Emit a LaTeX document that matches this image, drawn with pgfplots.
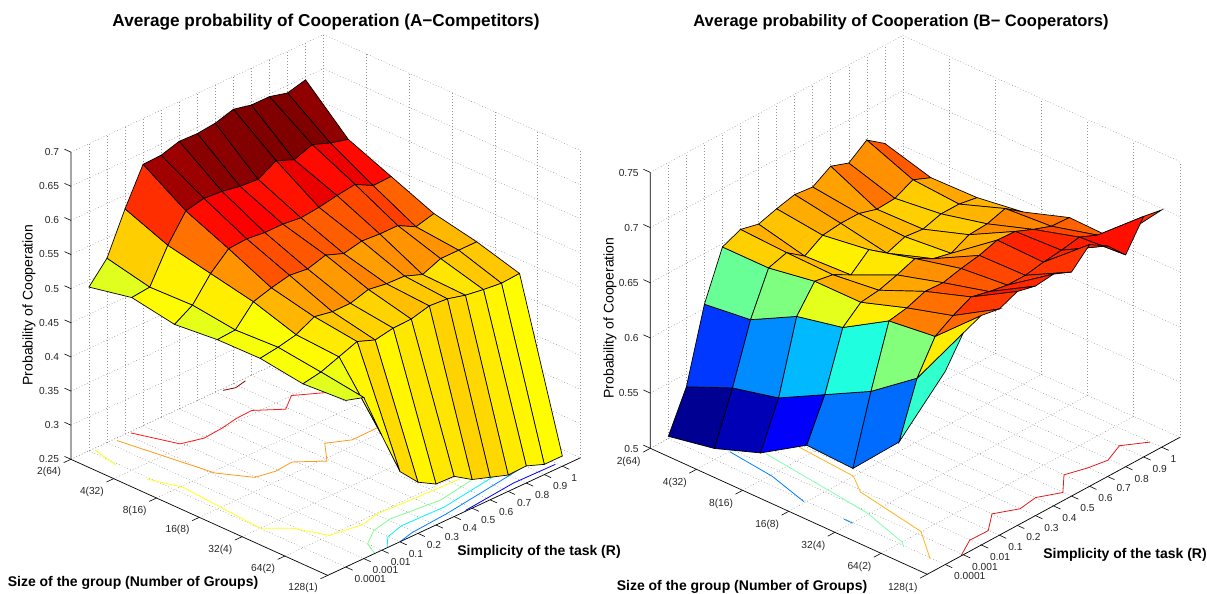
\documentclass[border=0pt]{standalone}
\usepackage{pgfplots}
\pgfplotsset{compat=1.18}
\usepackage{fontspec}
\setmainfont{Liberation Sans}
\definecolor{cdr}{rgb}{0.55,0,0}
\definecolor{cr}{rgb}{1,0.1,0.1}
\definecolor{co}{rgb}{1,0.6,0.1}
\definecolor{cy}{rgb}{1,1,0.1}
\definecolor{cg}{rgb}{0.5,1,0.55}
\definecolor{cc}{rgb}{0,0.95,1}
\definecolor{cb}{rgb}{0,0.5,1}
\definecolor{cdb}{rgb}{0,0,0.9}
\definecolor{crr}{rgb}{0.9,0.1,0.1}
\definecolor{coo}{rgb}{1,0.7,0.1}
\definecolor{cgg}{rgb}{0.5,1,0.7}
\newcommand\tk[6]{\addplot3[black,no marks,line width=0.6pt,forget plot] coordinates {(#1,#2,#3)(#4,#5,#6)};}
\pgfplotsset{
  panel/.style={
    clip=false, grid=major,
    grid style={dash pattern=on 0.8pt off 2.2pt, line width=0.5pt, black!42},
    axis line style={draw=none},
    tick pos=left,
    tick align=outside, tick style={draw=none},
    major tick length=7pt,
    tick label style={font=\fontsize{10.2}{12}\selectfont, text=black!85},
    colormap={mj}{rgb=(0,0,.5) rgb=(0,0,1) rgb=(0,.5,1) rgb=(0,1,1) rgb=(.5,1,.5) rgb=(1,1,0) rgb=(1,.5,0) rgb=(1,0,0) rgb=(.5,0,0)},
    xtick={1,2,3,4,5,6,7},
    xticklabels={2(64),4(32),8(16),16(8),32(4),64(2),128(1)},
    ytick={1,2,3,4,5,6,7,8,9,10,11,12,13},
    yticklabels={0.0001,0.001,0.01,0.1,0.2,0.3,0.4,0.5,0.6,0.7,0.8,0.9,1},
    xmin=1, xmax=7, ymin=0, ymax=14,
    every x tick label/.append style={anchor=east, xshift=0pt, yshift=-10pt},
    every y tick label/.append style={anchor=west, xshift=-1pt, yshift=-9pt},
    every z tick label/.append style={anchor=east, xshift=-2pt, yshift=3pt},
  },
  srf/.style={surf, shader=flat corner, draw=black, line width=0.7pt, z buffer=sort, mesh/rows=13, mesh/cols=7, mesh/ordering=y varies},
  cl/.style={no marks, line width=0.8pt, color=#1},
}
\begin{document}
\begin{tikzpicture}[x=1pt,y=1pt]
\path[use as bounding box] (0,0) rectangle (1207,594);
\begin{axis}[panel, at={(70.9pt,134.7pt)}, anchor=origin,
  x={(42.8pt,-19.35pt)}, y={(18.05pt,8.4pt)}, z={(0pt,682.6pt)},
  zmin=0.25, zmax=0.7,
  ztick={0.25,0.3,0.35,0.4,0.45,0.5,0.55,0.6,0.65,0.7},
  zticklabels={0.25,0.3,0.35,0.4,0.45,0.5,0.55,0.6,0.65,0.7}]
\addplot3[cl=cdr] coordinates {(1.05,8.32,.25)(1.13,8.83,.25)(1.07,9.50,.25)};
\addplot3[cl=cr] coordinates {(1.04,3.23,.25)(1.90,3.91,.25)(2.04,4.92,.25)(2.00,5.97,.25)(1.92,6.99,.25)(1.90,7.89,.25)(2.27,8.89,.25)(1.99,9.87,.25)(2.32,10.98,.25)(2.5,12,.25)(2.5,13,.25)};
\addplot3[cl=co] coordinates {(1.07,2.39,.25)(2.43,2.88,.25)(3.05,3.10,.25)(3.64,3.93,.25)(3.73,4.87,.25)(3.69,5.88,.25)(4.08,6.88,.25)(3.60,7.90,.25)(3.84,8.86,.25)(3.83,10.17,.25)(3.8,11.5,.25)};
\addplot3[cl=cy] coordinates {(1.05,1.22,.25)(1.68,.87,.25)};
\addplot3[cl=cy] coordinates {(2.40,.875,.25)(3.04,1.37,.25)(5.0,1.01,.25)(5.39,1.90,.25)(6.0,2.46,.25)(6.12,3.99,.25)(6.02,5.07,.25)(6.07,7.20,.25)(6.11,9.42,.25)};
\addplot3[cl=cg] coordinates {(6.99,2.62,.25)(6.67,2.99,.25)(6.41,3.93,.25)(6.30,5.10,.25)(6.42,7.62,.25)(6.28,9.65,.25)};
\addplot3[cl=cc] coordinates {(7.0,3.29,.25)(6.73,3.97,.25)(6.61,5.01,.25)(6.64,7.31,.25)(6.45,10.43,.25)(6.48,10.67,.25)};
\addplot3[cl=cb] coordinates {(7.0,4.01,.25)(6.91,4.88,.25)(6.84,6.95,.25)(6.68,9.76,.25)(6.55,11.98,.25)};
\addplot3[cl=cdb] coordinates {(6.98,7.68,.25)(6.85,10.64,.25)(6.87,12.92,.25)};
\addplot3[srf, point meta min=0.262, point meta max=0.645] table[row sep=\\] {
x y z\\
1 1 .490\\ 1 2 .520\\ 1 3 .580\\ 1 4 .633\\ 1 5 .634\\ 1 6 .642\\ 1 7 .641\\ 1 8 .644\\ 1 9 .652\\ 1 10 .646\\ 1 11 .646\\ 1 12 .639\\ 1 13 .646\\
2 1 .503\\ 2 2 .506\\ 2 3 .555\\ 2 4 .593\\ 2 5 .599\\ 2 6 .597\\ 2 7 .592\\ 2 8 .590\\ 2 9 .605\\ 2 10 .594\\ 2 11 .604\\ 2 12 .594\\ 2 13 .587\\
3 1 .492\\ 3 2 .508\\ 3 3 .542\\ 3 4 .566\\ 3 5 .568\\ 3 6 .565\\ 3 7 .565\\ 3 8 .562\\ 3 9 .565\\ 3 10 .570\\ 3 11 .574\\ 3 12 .560\\ 3 13 .561\\
4 1 .498\\ 4 2 .500\\ 4 3 .529\\ 4 4 .537\\ 4 5 .543\\ 4 6 .540\\ 4 7 .548\\ 4 8 .538\\ 4 9 .544\\ 4 10 .542\\ 4 11 .542\\ 4 12 .528\\ 4 13 .535\\
5 1 .499\\ 5 2 .503\\ 5 3 .509\\ 5 4 .523\\ 5 5 .518\\ 5 6 .518\\ 5 7 .526\\ 5 8 .522\\ 5 9 .521\\ 5 10 .511\\ 5 11 .522\\ 5 12 .522\\ 5 13 .522\\
6 1 .490\\ 6 2 .495\\ 6 3 .505\\ 6 4 .515\\ 6 5 .505\\ 6 6 .510\\ 6 7 .511\\ 6 8 .518\\ 6 9 .516\\ 6 10 .509\\ 6 11 .505\\ 6 12 .502\\ 6 13 .504\\
7 1 .494\\ 7 2 .486\\ 7 3 .418\\ 7 4 .353\\ 7 5 .325\\ 7 6 .310\\ 7 7 .309\\ 7 8 .292\\ 7 9 .283\\ 7 10 .274\\ 7 11 .275\\ 7 12 .265\\ 7 13 .265\\
};
\draw[black,line width=0.7pt] (axis cs:1,0,.7)--(axis cs:1,0,.25)--(axis cs:7,0,.25)--(axis cs:7,14,.25);
\tk{1}{0}{.25}{1}{-.4}{.25}\tk{2}{0}{.25}{2}{-.4}{.25}\tk{3}{0}{.25}{3}{-.4}{.25}\tk{4}{0}{.25}{4}{-.4}{.25}\tk{5}{0}{.25}{5}{-.4}{.25}\tk{6}{0}{.25}{6}{-.4}{.25}\tk{7}{0}{.25}{7}{-.4}{.25}
\tk{7}{1}{.25}{7.16}{1}{.25}\tk{7}{2}{.25}{7.16}{2}{.25}\tk{7}{3}{.25}{7.16}{3}{.25}\tk{7}{4}{.25}{7.16}{4}{.25}\tk{7}{5}{.25}{7.16}{5}{.25}\tk{7}{6}{.25}{7.16}{6}{.25}\tk{7}{7}{.25}{7.16}{7}{.25}\tk{7}{8}{.25}{7.16}{8}{.25}\tk{7}{9}{.25}{7.16}{9}{.25}\tk{7}{10}{.25}{7.16}{10}{.25}\tk{7}{11}{.25}{7.16}{11}{.25}\tk{7}{12}{.25}{7.16}{12}{.25}\tk{7}{13}{.25}{7.16}{13}{.25}
\tk{1}{0}{.25}{.85}{0}{.25}\tk{1}{0}{.3}{.85}{0}{.3}\tk{1}{0}{.35}{.85}{0}{.35}\tk{1}{0}{.4}{.85}{0}{.4}\tk{1}{0}{.45}{.85}{0}{.45}\tk{1}{0}{.5}{.85}{0}{.5}\tk{1}{0}{.55}{.85}{0}{.55}\tk{1}{0}{.6}{.85}{0}{.6}\tk{1}{0}{.65}{.85}{0}{.65}\tk{1}{0}{.7}{.85}{0}{.7}
\end{axis}
\begin{axis}[panel, at={(650.3pt,145.7pt)}, anchor=origin,
  x={(46.15pt,-21.0pt)}, y={(18.04pt,9.78pt)}, z={(0pt,1103.5pt)},
  zmin=0.5, zmax=0.75,
  ztick={0.5,0.55,0.6,0.65,0.7,0.75},
  zticklabels={0.5,0.55,0.6,0.65,0.7,0.75}]
\addplot3[cl=crr] coordinates {(6.99,1.91,.5)(6.76,2.97,.5)(6.77,3.97,.5)(6.45,5.0,.5)(6.67,5.99,.5)(6.61,7.01,.5)(6.82,7.98,.5)(6.45,8.99,.5)(6.58,9.98,.5)(6.65,10.92,.5)(6.47,12.01,.5)(6.75,12.98,.5)};
\addplot3[cl=coo] coordinates {(2.73,3.83,.5)(4.0,3.59,.5)(4.42,2.89,.5)(6.0,2.22,.5)(6.70,.93,.5)};
\addplot3[cl=cgg] coordinates {(2.49,2.62,.5)(4.10,2.15,.5)(4.96,1.89,.5)(6.0,1.16,.5)(6.13,.93,.5)};
\addplot3[cl=cb] coordinates {(2.01,1.82,.5)(3.04,1.53,.5)(3.97,.92,.5)};
\addplot3[cl=cb] coordinates {(4.82,.96,.5)(5.01,.96,.5)};
\addplot3[srf, point meta min=0.498, point meta max=0.72] table[row sep=\\] {
x y z\\
1 1 .502\\ 1 2 .538\\ 1 3 .604\\ 1 4 .647\\ 1 5 .654\\ 1 6 .650\\ 1 7 .655\\ 1 8 .659\\ 1 9 .657\\ 1 10 .667\\ 1 11 .661\\ 1 12 .673\\ 1 13 .661\\
2 1 .510\\ 2 2 .556\\ 2 3 .609\\ 2 4 .647\\ 2 5 .652\\ 2 6 .640\\ 2 7 .650\\ 2 8 .652\\ 2 9 .652\\ 2 10 .647\\ 2 11 .648\\ 2 12 .656\\ 2 13 .649\\
3 1 .525\\ 3 2 .566\\ 3 3 .631\\ 3 4 .654\\ 3 5 .651\\ 3 6 .642\\ 3 7 .656\\ 3 8 .644\\ 3 9 .650\\ 3 10 .648\\ 3 11 .653\\ 3 12 .653\\ 3 13 .650\\
4 1 .551\\ 4 2 .588\\ 4 3 .640\\ 4 4 .654\\ 4 5 .656\\ 4 6 .661\\ 4 7 .667\\ 4 8 .658\\ 4 9 .654\\ 4 10 .662\\ 4 11 .663\\ 4 12 .668\\ 4 13 .656\\
5 1 .549\\ 5 2 .610\\ 5 3 .665\\ 5 4 .668\\ 5 5 .674\\ 5 6 .673\\ 5 7 .677\\ 5 8 .680\\ 5 9 .685\\ 5 10 .684\\ 5 11 .677\\ 5 12 .671\\ 5 13 .670\\
6 1 .592\\ 6 2 .641\\ 6 3 .670\\ 6 4 .680\\ 6 5 .688\\ 6 6 .684\\ 6 7 .681\\ 6 8 .681\\ 6 9 .684\\ 6 10 .686\\ 6 11 .689\\ 6 12 .682\\ 6 13 .669\\
7 1 .675\\ 7 2 .701\\ 7 3 .708\\ 7 4 .705\\ 7 5 .712\\ 7 6 .708\\ 7 7 .710\\ 7 8 .703\\ 7 9 .719\\ 7 10 .709\\ 7 11 .692\\ 7 12 .718\\ 7 13 .715\\
};
\draw[black,line width=0.7pt] (axis cs:1,0,.75)--(axis cs:1,0,.5)--(axis cs:7,0,.5)--(axis cs:7,14,.5);
\tk{1}{0}{.5}{1}{-.4}{.5}\tk{2}{0}{.5}{2}{-.4}{.5}\tk{3}{0}{.5}{3}{-.4}{.5}\tk{4}{0}{.5}{4}{-.4}{.5}\tk{5}{0}{.5}{5}{-.4}{.5}\tk{6}{0}{.5}{6}{-.4}{.5}\tk{7}{0}{.5}{7}{-.4}{.5}
\tk{7}{1}{.5}{7.15}{1}{.5}\tk{7}{2}{.5}{7.15}{2}{.5}\tk{7}{3}{.5}{7.15}{3}{.5}\tk{7}{4}{.5}{7.15}{4}{.5}\tk{7}{5}{.5}{7.15}{5}{.5}\tk{7}{6}{.5}{7.15}{6}{.5}\tk{7}{7}{.5}{7.15}{7}{.5}\tk{7}{8}{.5}{7.15}{8}{.5}\tk{7}{9}{.5}{7.15}{9}{.5}\tk{7}{10}{.5}{7.15}{10}{.5}\tk{7}{11}{.5}{7.15}{11}{.5}\tk{7}{12}{.5}{7.15}{12}{.5}\tk{7}{13}{.5}{7.15}{13}{.5}
\tk{1}{0}{.5}{.85}{0}{.5}\tk{1}{0}{.55}{.85}{0}{.55}\tk{1}{0}{.6}{.85}{0}{.6}\tk{1}{0}{.65}{.85}{0}{.65}\tk{1}{0}{.7}{.85}{0}{.7}\tk{1}{0}{.75}{.85}{0}{.75}
\end{axis}
\node[font=\bfseries\fontsize{17.2}{18}\selectfont] at (326,572) {Average probability of Cooperation (A−Competitors)};
\node[font=\bfseries\fontsize{16.5}{18}\selectfont] at (901,572) {Average probability of Cooperation (B− Cooperators)};
\node[font=\bfseries\fontsize{14}{16}\selectfont] at (133,11) {Size of the group (Number of Groups)};
\node[font=\bfseries\fontsize{14}{16}\selectfont] at (742,7) {Size of the group (Number of Groups)};
\node[font=\bfseries\fontsize{14}{16}\selectfont] at (539,42) {Simplicity of the task (R)};
\node[font=\bfseries\fontsize{14}{16}\selectfont] at (1125,39) {Simplicity of the task (R)};
\node[rotate=90,font=\fontsize{14}{16}\selectfont] at (29,289) {Probability of Cooperation};
\node[rotate=90,font=\fontsize{14}{16}\selectfont] at (610,276) {Probability of Cooperation};
\end{tikzpicture}
\end{document}
